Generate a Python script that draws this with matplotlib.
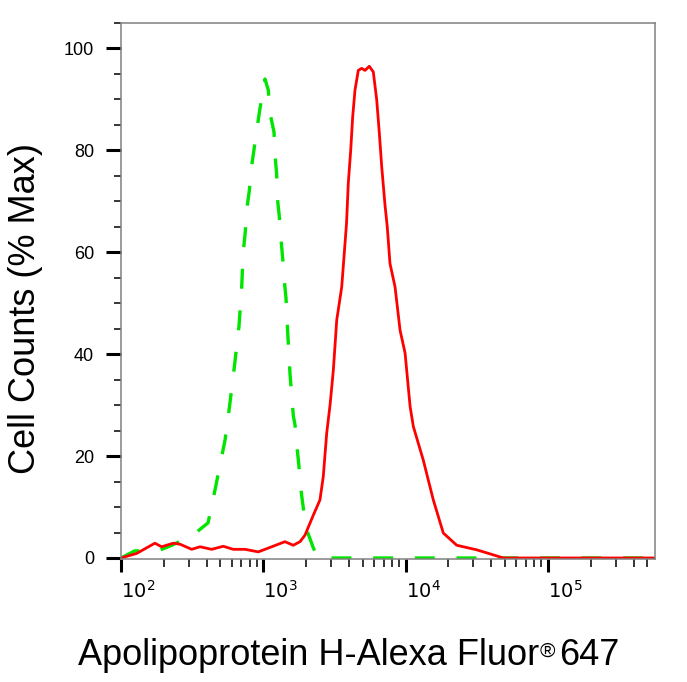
from matplotlib import pyplot as plt
from matplotlib.ticker import MultipleLocator, LogLocator, FixedLocator, NullFormatter

# Isotype control (green, dashed) - intensity and % max
green_x = [100, 125, 182, 228, 321, 409, 443, 489, 539, 577, 626, 675, 705, 723, 747,
           764, 797, 824, 861, 908, 949, 1028, 1085, 1115, 1189, 1208, 1242, 1254, 1295,
           1331, 1368, 1404, 1444, 1484, 1541, 1626, 1671, 1734, 1782, 1833, 1911, 2020,
           2246, 2422, 560000]
green_y = [0, 1.4, 1.4, 2.5, 4.5, 6.9, 11.4, 17.3, 23.2, 29.4, 37.5, 45.5, 53.2, 60.0, 64.0,
           68.3, 72.0, 76.5, 80.2, 84.8, 88.3, 94.0, 91.8, 87.3, 83.6, 79.1, 75.3, 70.8, 67.1,
           62.6, 58.9, 54.5, 51.0, 44.3, 36.1, 27.9, 26.1, 21.2, 17.9, 13.7, 9.8, 5.5,
           2.0, 0, 0]

# Apolipoprotein H stained sample (red, solid)
red_x = [100, 129, 173, 193, 233, 260, 314, 359, 434, 523, 615, 744, 922, 1146, 1419,
         1625, 1813, 1965, 2246, 2502, 2640, 2790, 2945, 3107, 3282, 3558, 3846, 3958,
         4114, 4249, 4409, 4652, 4915, 5185, 5559, 5930, 6268, 6538, 6796, 7166, 7434,
         7768, 8432, 9145, 9920, 10760, 11340, 13320, 15660, 18410, 22870, 31610, 40360,
         48620, 560000]
red_y = [0, 0.9, 2.9, 2.2, 2.9, 2.7, 1.7, 2.2, 1.7, 2.3, 1.7, 1.7, 1.2, 2.2, 3.2,
         2.5, 3.2, 4.5, 8.4, 11.4, 16.0, 24.5, 30.0, 36.9, 46.7, 53.2, 65.7, 73.6,
         80.0, 86.6, 91.8, 95.7, 96.1, 95.7, 96.5, 95.4, 89.9, 83.4, 76.8, 69.3, 65.0,
         57.8, 53.2, 44.7, 40.2, 29.7, 25.8, 19.2, 11.4, 4.9, 2.5, 1.6, 0.7,
         0, 0]

x_ticks = [100, 1000, 10000, 100000]
x_tick_labels = [r"$\mathrm{10^{2}}$", r"$\mathrm{10^{3}}$", r"$\mathrm{10^{4}}$", r"$\mathrm{10^{5}}$"]
y_ticks = [0, 20, 40, 60, 80, 100]

W, H = 687, 682
TICK_FONT = ['Liberation Sans Narrow', 'Liberation Sans', 'DejaVu Sans']
LABEL_FONT = ['Liberation Sans', 'DejaVu Sans']

plt.rcParams['mathtext.fontset'] = 'custom'
plt.rcParams['mathtext.rm'] = 'Liberation Sans Narrow'

fig = plt.figure(figsize=(W / 100, H / 100), dpi=100)
ax = fig.add_axes([121 / W, 1 - 559 / H, (655 - 121) / W, (559 - 23) / H])

ax.plot(green_x, green_y, color='#00e600', lw=2.4, linestyle=(0, (6, 6.5)))
ax.plot(red_x, red_y, color='#ff0000', lw=2.0)

ax.set_xscale('log')
ax.set_xlim(100, 5.66e5)
ax.set_ylim(-0.2, 105)

# ticks
ax.xaxis.set_major_locator(FixedLocator(x_ticks))
ax.set_xticklabels(x_tick_labels)
ax.xaxis.set_minor_locator(LogLocator(base=10, subs=range(2, 10), numticks=20))
ax.xaxis.set_minor_formatter(NullFormatter())
ax.set_yticks(y_ticks)
ax.yaxis.set_minor_locator(MultipleLocator(5))

ax.tick_params(axis='both', which='major', direction='out', color='black', width=2.2)
ax.tick_params(axis='both', which='minor', direction='out', color='black', width=1.1)
ax.tick_params(axis='y', which='major', length=10.8, pad=8.5, labelsize=13)
ax.tick_params(axis='y', which='minor', length=5)
ax.tick_params(axis='x', which='major', length=9.4, pad=6, labelsize=14)
ax.tick_params(axis='x', which='minor', length=5.8)
ax.tick_params(top=False, right=False, which='both')

for lab in ax.get_yticklabels():
	lab.set_family(TICK_FONT)
for lab in ax.get_xticklabels():
	lab.set_family(TICK_FONT)
	lab.set_horizontalalignment('left')

for side in ['left', 'right', 'top', 'bottom']:
	ax.spines[side].set_color('#808080')
	ax.spines[side].set_linewidth(1.1)

# axis titles
fig.text(25.5 / W, 1 - 309 / H, "Cell Counts (% Max)", rotation=90, ha='center', va='center',
		 fontsize=26, family=LABEL_FONT)

t1 = fig.text(78 / W, 1 - 665 / H, "Apolipoprotein H-Alexa Fluor", ha='left', va='baseline',
			  fontsize=26, family=LABEL_FONT)
t2 = fig.add_artist(plt.Annotation("\u00ae", xy=(1, 1), xycoords=t1, xytext=(0.5, -2.5),
								   textcoords='offset points', ha='left', va='top',
								   fontsize=15, family=LABEL_FONT))
t3 = fig.add_artist(plt.Annotation("647", xy=(1, 0), xycoords=(t2, t1), xytext=(3, 0),
								   textcoords='offset points', ha='left', va='bottom',
								   fontsize=26, family=LABEL_FONT))

plt.savefig("out.png", dpi=100)
